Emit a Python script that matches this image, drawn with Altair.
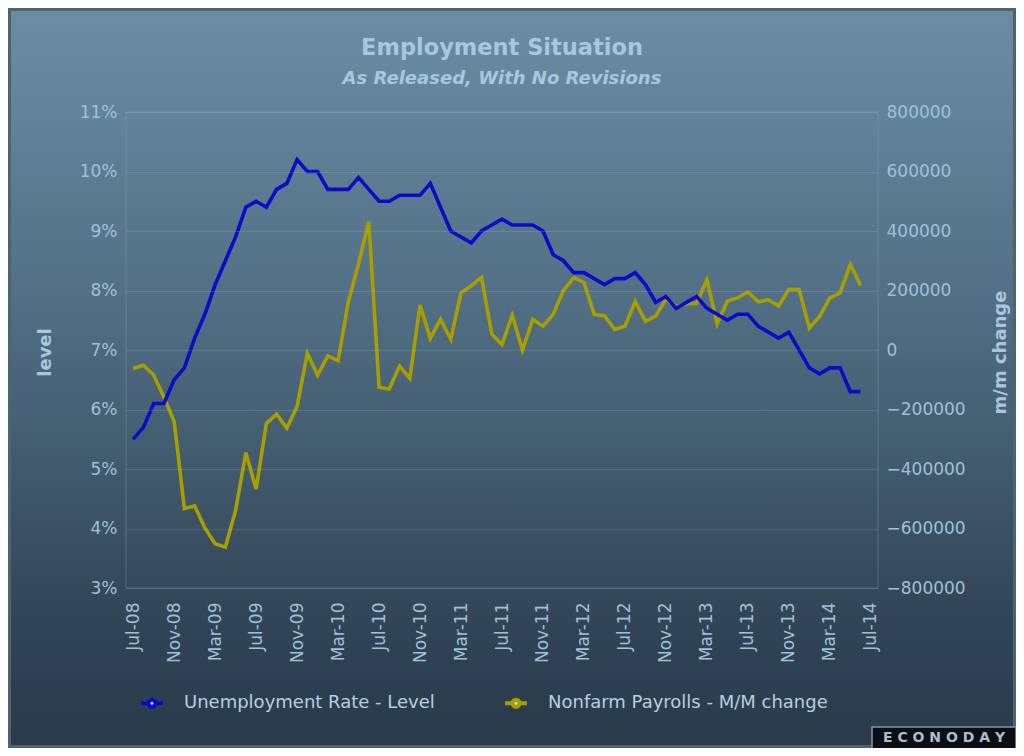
import json
import pandas as pd
import altair as alt

# ---------------- data (release month, as first reported) ----------------
release_months = [
    "Jul-08", "Aug-08", "Sep-08", "Oct-08", "Nov-08", "Dec-08",
    "Jan-09", "Feb-09", "Mar-09", "Apr-09", "May-09", "Jun-09",
    "Jul-09", "Aug-09", "Sep-09", "Oct-09", "Nov-09", "Dec-09",
    "Jan-10", "Feb-10", "Mar-10", "Apr-10", "May-10", "Jun-10",
    "Jul-10", "Aug-10", "Sep-10", "Oct-10", "Nov-10", "Dec-10",
    "Jan-11", "Feb-11", "Mar-11", "Apr-11", "May-11", "Jun-11",
    "Jul-11", "Aug-11", "Sep-11", "Oct-11", "Nov-11", "Dec-11",
    "Jan-12", "Feb-12", "Mar-12", "Apr-12", "May-12", "Jun-12",
    "Jul-12", "Aug-12", "Sep-12", "Oct-12", "Nov-12", "Dec-12",
    "Jan-13", "Feb-13", "Mar-13", "Apr-13", "May-13", "Jun-13",
    "Jul-13", "Aug-13", "Sep-13", "Oct-13", "Nov-13", "Dec-13",
    "Jan-14", "Feb-14", "Mar-14", "Apr-14", "May-14", "Jun-14",
]

unemployment_rate = [
    5.5, 5.7, 6.1, 6.1, 6.5, 6.7,
    7.2, 7.6, 8.1, 8.5, 8.9, 9.4, 9.5, 9.4, 9.7, 9.8, 10.2, 10.0,
    10.0, 9.7, 9.7, 9.7, 9.9, 9.7, 9.5, 9.5, 9.6, 9.6, 9.6, 9.8,
    9.4, 9.0, 8.9, 8.8, 9.0, 9.1, 9.2, 9.1, 9.1, 9.1, 9.0, 8.6,
    8.5, 8.3, 8.3, 8.2, 8.1, 8.2, 8.2, 8.3, 8.1, 7.8, 7.9, 7.7,
    7.8, 7.9, 7.7, 7.6, 7.5, 7.6, 7.6, 7.4, 7.3, 7.2, 7.3, 7.0,
    6.7, 6.6, 6.7, 6.7, 6.3, 6.3,
]

nonfarm_payrolls = [
    -62000, -51000, -84000, -159000, -240000, -533000,
    -524000, -598000, -651000, -663000, -539000, -345000,
    -467000, -247000, -216000, -263000, -190000, -11000,
    -85000, -20000, -36000, 162000, 290000, 431000,
    -125000, -131000, -54000, -95000, 151000, 39000,
    103000, 36000, 192000, 216000, 244000, 54000,
    18000, 117000, 0, 103000, 80000, 120000,
    200000, 243000, 227000, 120000, 115000, 69000,
    80000, 163000, 96000, 114000, 171000, 146000,
    155000, 157000, 236000, 88000, 165000, 175000,
    195000, 162000, 169000, 148000, 204000, 203000,
    74000, 113000, 175000, 192000, 288000, 217000,
]

x_tick_labels = ["Jul-08", "Nov-08", "Mar-09", "Jul-09", "Nov-09", "Mar-10",
                 "Jul-10", "Nov-10", "Mar-11", "Jul-11", "Nov-11", "Mar-12",
                 "Jul-12", "Nov-12", "Mar-13", "Jul-13", "Nov-13", "Mar-14",
                 "Jul-14"]
left_ticks = [3, 4, 5, 6, 7, 8, 9, 10, 11]
right_ticks = [-800000, -600000, -400000, -200000, 0, 200000, 400000, 600000, 800000]

series_names = ["Unemployment Rate - Level", "Nonfarm Payrolls - M/M change"]
series_colors = ["#0c0cc6", "#a89e00"]

title_text = "Employment Situation"
subtitle_text = "As Released, With No Revisions"
logo_text = "E C O N O D A Y"

# ---------------- tables ----------------
idx = list(range(len(release_months)))
df_u = pd.DataFrame({"idx": idx, "month": release_months,
                     "rate": unemployment_rate, "series": series_names[0]})
df_p = pd.DataFrame({"idx": idx, "month": release_months,
                     "payrolls": nonfarm_payrolls, "series": series_names[1]})
one = pd.DataFrame({"k": [0]})

# ---------------- layout ----------------
W, H = 752, 476
PAD_L, PAD_T = 118, 104
TOTAL_W, TOTAL_H = 1008, 740
PAD_R = TOTAL_W - PAD_L - W
PAD_B = TOTAL_H - PAD_T - H

FONT = "DejaVu Sans"
LABEL_COLOR = "#9fc1d9"
TITLE_COLOR = "#a7c7df"

x_tick_values = [4 * i for i in range(len(x_tick_labels))]
x_axis = alt.Axis(
    values=x_tick_values,
    labelExpr=f"{json.dumps(x_tick_labels)}[round(datum.value / 4)]",
    labelAngle=270, labelFont=FONT, labelFontSize=17, labelColor=LABEL_COLOR,
    labelPadding=14, ticks=False, domain=False, grid=False, title=None,
    labelFlush=False, labelOverlap=False, zindex=1,
)
x_enc = alt.X("idx:Q", scale=alt.Scale(domain=[-0.7, 72.7], nice=False, zero=False),
              axis=x_axis)

left_axis = alt.Axis(
    orient="left", values=left_ticks, labelExpr="datum.value + '%'",
    labelFont=FONT, labelFontSize=17, labelColor=LABEL_COLOR, labelPadding=9,
    ticks=False, domain=False, grid=True, gridColor="#a9c6da", gridOpacity=0.2,
    gridWidth=1, title="level", titleFont=FONT, titleFontSize=18,
    titleFontWeight="bold", titleColor=TITLE_COLOR, titleAngle=270,
    titleX=-81, titleY=240, titleAlign="center", titleBaseline="middle", zindex=1,
)
right_axis = alt.Axis(
    orient="right", values=right_ticks, format="d",
    labelFont=FONT, labelFontSize=17, labelColor=LABEL_COLOR, labelPadding=8,
    ticks=False, domain=False, grid=False, title="m/m change", titleFont=FONT,
    titleFontSize=18, titleFontWeight="bold", titleColor=TITLE_COLOR,
    titleAngle=270, titleX=122, titleY=240, titleAlign="center",
    titleBaseline="middle", zindex=1,
)

legend_symbol = ("M-1,0 L-0.32,0 M0.32,0 L1,0 "
                 "M0.32,0 A0.32,0.32 0 1,1 -0.32,0 A0.32,0.32 0 1,1 0.32,0 Z")
color_enc = alt.Color(
    "series:N",
    scale=alt.Scale(domain=series_names, range=series_colors),
    legend=alt.Legend(
        orient="none", legendX=13, legendY=578, direction="horizontal",
        title=None, symbolType=legend_symbol, symbolSize=484,
        symbolStrokeWidth=4, symbolFillColor="#c9d8f2",
        labelFont=FONT, labelFontSize=18, labelColor="#b8cfe1",
        labelOffset=19, columnPadding=62, padding=0, labelLimit=400,
    ),
)

# ---------------- background ----------------
gradient = alt.LinearGradient(
    gradient="linear", x1=0, x2=0, y1=0, y2=1,
    stops=[
        alt.GradientStop(offset=0.0, color="#6b8ca3"),
        alt.GradientStop(offset=0.14, color="#62839a"),
        alt.GradientStop(offset=0.39, color="#526f85"),
        alt.GradientStop(offset=0.62, color="#415a6d"),
        alt.GradientStop(offset=0.78, color="#35495b"),
        alt.GradientStop(offset=0.91, color="#2d3f50"),
        alt.GradientStop(offset=1.0, color="#2a3b4a"),
    ],
)
bg = alt.Chart(one).mark_rect(fill=gradient, stroke="#4e6470", strokeWidth=6).encode(
    x=alt.value(-PAD_L), x2=alt.value(W + PAD_R),
    y=alt.value(-PAD_T), y2=alt.value(H + PAD_B),
)
frame = alt.Chart(one).mark_rect(filled=False, stroke="#8eabc0", strokeOpacity=0.35,
                                  strokeWidth=1).encode(
    x=alt.value(0), x2=alt.value(W), y=alt.value(0), y2=alt.value(H),
)

title_mark = alt.Chart(one).mark_text(
    text=title_text, font=FONT, fontSize=22.5, fontWeight="bold",
    color=TITLE_COLOR, align="center", baseline="middle",
).encode(x=alt.value(W / 2), y=alt.value(-64))
subtitle_mark = alt.Chart(one).mark_text(
    text=subtitle_text, font=FONT, fontSize=18, fontWeight="bold",
    fontStyle="italic", color=TITLE_COLOR, align="center", baseline="middle",
).encode(x=alt.value(W / 2), y=alt.value(-33))

logo_box = alt.Chart(one).mark_rect(fill="#0b0f14", stroke="#8196a6",
                                     strokeWidth=1.5).encode(
    x=alt.value(746), x2=alt.value(890), y=alt.value(615), y2=alt.value(637),
)
logo = alt.Chart(one).mark_text(
    text=logo_text, font=FONT, fontSize=14, fontWeight="bold",
    color="#a9bfcf", align="center", baseline="middle",
).encode(x=alt.value(818), y=alt.value(626))

# ---------------- lines ----------------
line_u = alt.Chart(df_u).mark_line(strokeWidth=3.6).encode(
    x=x_enc,
    y=alt.Y("rate:Q", scale=alt.Scale(domain=[3, 11], nice=False, zero=False),
            axis=left_axis),
    color=color_enc,
)
line_p = alt.Chart(df_p).mark_line(strokeWidth=3.6).encode(
    x=x_enc,
    y=alt.Y("payrolls:Q", scale=alt.Scale(domain=[-800000, 800000], nice=False,
                                           zero=False), axis=right_axis),
    color=color_enc,
)

chart = alt.layer(
    bg, frame, title_mark, subtitle_mark, logo_box, logo, line_p, line_u,
).resolve_scale(y="independent").properties(
    width=W, height=H,
    padding={"left": PAD_L, "top": PAD_T, "right": PAD_R, "bottom": PAD_B},
    autosize=alt.AutoSizeParams(type="none"),
).configure_view(stroke=None).configure(background="#2a3b4a")

chart.save("out.html", embed_options={"renderer": "svg", "actions": False})
